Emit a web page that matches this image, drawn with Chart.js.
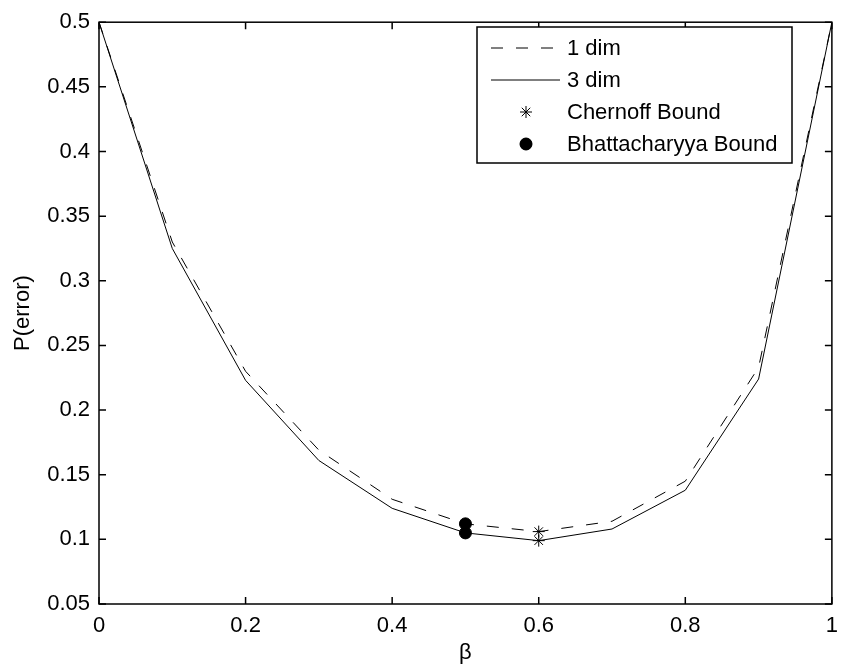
<!DOCTYPE html>
<html>
<head>
<meta charset="utf-8">
<script src="https://cdn.jsdelivr.net/npm/chart.js@4.4.0/dist/chart.umd.min.js"></script>
<style>
  html, body { margin: 0; padding: 0; background: #fff; }
  #wrap { width: 847px; height: 669px; }
</style>
</head>
<body>
<div id="wrap"><canvas id="errChart" width="847" height="669"></canvas></div>
<script>
// beta values along the x axis
var betas = [0, 0.1, 0.2, 0.3, 0.4, 0.5, 0.6, 0.7, 0.8, 0.9, 1];
// P(error) for the 1-dim and 3-dim cases
var err1dim = [0.5, 0.33, 0.23, 0.169, 0.131, 0.112, 0.106, 0.114, 0.145, 0.233, 0.5];
var err3dim = [0.5, 0.325, 0.223, 0.161, 0.124, 0.105, 0.099, 0.108, 0.138, 0.224, 0.5];
// bound markers
var chernoffX = [0.6, 0.6];
var chernoffY = [0.106, 0.099];
var bhattX = [0.5, 0.5];
var bhattY = [0.112, 0.105];
// ticks
var xTicks = [0, 0.2, 0.4, 0.6, 0.8, 1];
var yTicks = [0.05, 0.1, 0.15, 0.2, 0.25, 0.3, 0.35, 0.4, 0.45, 0.5];
var xTickLabels = ['0', '0.2', '0.4', '0.6', '0.8', '1'];
var yTickLabels = ['0.05', '0.1', '0.15', '0.2', '0.25', '0.3', '0.35', '0.4', '0.45', '0.5'];

var FONT = '"Liberation Sans", Arial, Helvetica, sans-serif';
var FSIZE = 22;

function toPoints(xs, ys) {
    return xs.map(function(x, i) { return {x: x, y: ys[i]}; });
}

// box, inward ticks and legend drawn MATLAB style
var matlabFrame = {
    id: 'matlabFrame',
    afterDraw: function(chart) {
        var ctx = chart.ctx;
        var a = chart.chartArea;
        var xs = chart.scales.x, ys = chart.scales.y;
        var tl = 7;
        ctx.save();
        ctx.strokeStyle = '#000';
        ctx.lineWidth = 1.5;
        ctx.beginPath();
        xTicks.forEach(function(v) {
            var px = xs.getPixelForValue(v);
            ctx.moveTo(px, a.bottom); ctx.lineTo(px, a.bottom - tl);
            ctx.moveTo(px, a.top); ctx.lineTo(px, a.top + tl);
        });
        yTicks.forEach(function(v) {
            var py = ys.getPixelForValue(v);
            ctx.moveTo(a.left, py); ctx.lineTo(a.left + tl, py);
            ctx.moveTo(a.right, py); ctx.lineTo(a.right - tl, py);
        });
        ctx.stroke();
        ctx.strokeRect(a.left, a.top, a.right - a.left, a.bottom - a.top);

        // legend
        var lx = 477, ly = 27, lw = 315, lh = 136;
        ctx.fillStyle = '#fff';
        ctx.fillRect(lx, ly, lw, lh);
        ctx.strokeRect(lx, ly, lw, lh);
        ctx.font = FSIZE + 'px ' + FONT;
        ctx.textBaseline = 'middle';
        chart.data.datasets.forEach(function(ds, i) {
            var rowY = 48 + i * 32;
            ctx.strokeStyle = '#000';
            ctx.fillStyle = '#000';
            ctx.lineWidth = 1;
            if (ds.showLine) {
                ctx.setLineDash(ds.borderDash || []);
                ctx.beginPath();
                ctx.moveTo(491, rowY); ctx.lineTo(560, rowY);
                ctx.stroke();
                ctx.setLineDash([]);
            } else {
                Chart.helpers.drawPoint(ctx, {
                    pointStyle: ds.pointStyle,
                    radius: ds.pointRadius,
                    borderWidth: ds.borderWidth,
                    rotation: 0
                }, 526, rowY);
                if (ds.pointStyle === 'circle') ctx.fill();
            }
            ctx.fillStyle = '#000';
            ctx.fillText(ds.label, 567, rowY + 1);
        });
        ctx.restore();
    }
};

var ctxErr = document.getElementById('errChart').getContext('2d');
var errChart = new Chart(ctxErr, {
    type: 'scatter',
    data: {
        datasets: [
            {
                label: '1 dim',
                data: toPoints(betas, err1dim),
                showLine: true,
                borderColor: '#000',
                borderWidth: 1,
                borderDash: [12, 13],
                pointRadius: 0,
                tension: 0
            },
            {
                label: '3 dim',
                data: toPoints(betas, err3dim),
                showLine: true,
                borderColor: '#000',
                borderWidth: 1,
                pointRadius: 0,
                tension: 0
            },
            {
                label: 'Chernoff Bound',
                data: toPoints(chernoffX, chernoffY),
                showLine: false,
                pointStyle: 'star',
                pointRadius: 6,
                borderColor: '#000',
                backgroundColor: '#000',
                borderWidth: 1
            },
            {
                label: 'Bhattacharyya Bound',
                data: toPoints(bhattX, bhattY),
                showLine: false,
                pointStyle: 'circle',
                pointRadius: 6,
                borderColor: '#000',
                backgroundColor: '#000',
                borderWidth: 1
            }
        ]
    },
    options: {
        responsive: false,
        animation: false,
        layout: {
            autoPadding: false,
            padding: {top: 16, right: 4, left: 0, bottom: 0}
        },
        plugins: {
            legend: {display: false},
            tooltip: {enabled: false}
        },
        scales: {
            x: {
                type: 'linear',
                min: 0,
                max: 1,
                afterBuildTicks: function(s) { s.ticks = xTicks.map(function(v) { return {value: v}; }); },
                afterFit: function(s) { s.height = 65; },
                grid: {display: false, drawTicks: false},
                border: {display: false},
                ticks: {
                    color: '#000',
                    padding: 9,
                    maxRotation: 0,
                    font: {family: FONT, size: FSIZE},
                    callback: function(v, i) { return xTickLabels[i]; }
                },
                title: {
                    display: true,
                    text: 'β',
                    color: '#000',
                    font: {family: FONT, size: FSIZE},
                    padding: {top: 0, bottom: 3}
                }
            },
            y: {
                type: 'linear',
                min: 0.05,
                max: 0.5,
                afterBuildTicks: function(s) { s.ticks = yTicks.map(function(v) { return {value: v}; }); },
                afterFit: function(s) { s.width = 99; },
                grid: {display: false, drawTicks: false},
                border: {display: false},
                ticks: {
                    color: '#000',
                    padding: 9,
                    font: {family: FONT, size: FSIZE},
                    callback: function(v, i) { return yTickLabels[i]; }
                },
                title: {
                    display: true,
                    text: 'P(error)',
                    color: '#000',
                    font: {family: FONT, size: FSIZE},
                    padding: {top: 10, bottom: 0}
                }
            }
        }
    },
    plugins: [matlabFrame]
});
</script>
</body>
</html>
